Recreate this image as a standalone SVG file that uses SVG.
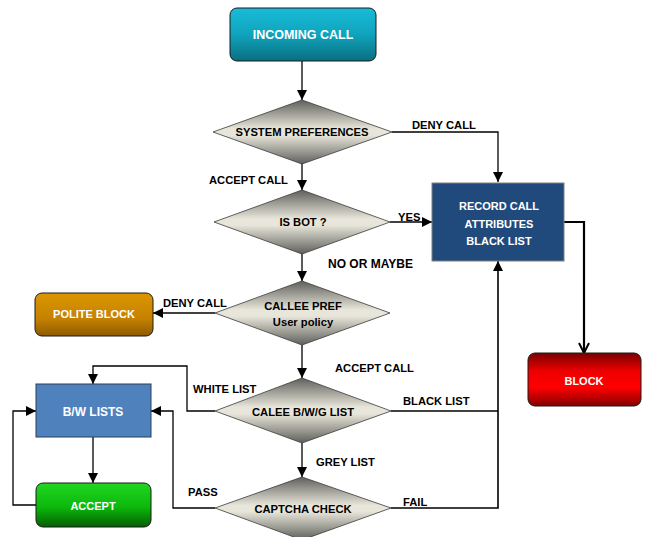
<svg xmlns="http://www.w3.org/2000/svg" width="645" height="537" viewBox="0 0 645 537">
<defs>
<linearGradient id="gTeal" x1="0" y1="0" x2="0" y2="1"><stop offset="0" stop-color="#18BCD8"/><stop offset="0.5" stop-color="#10A3BC"/><stop offset="1" stop-color="#0A6E80"/></linearGradient>
<linearGradient id="gDia" x1="0" y1="0" x2="0" y2="1"><stop offset="0" stop-color="#5F5F5B"/><stop offset="0.45" stop-color="#E8E6DA"/><stop offset="0.55" stop-color="#E8E6DA"/><stop offset="1" stop-color="#5F5F5B"/></linearGradient>
<linearGradient id="gGold" x1="0" y1="0" x2="0" y2="1"><stop offset="0" stop-color="#DC9600"/><stop offset="0.6" stop-color="#C58200"/><stop offset="1" stop-color="#8E5A00"/></linearGradient>
<linearGradient id="gGreen" x1="0" y1="0" x2="0" y2="1"><stop offset="0" stop-color="#22D622"/><stop offset="0.55" stop-color="#0BB80B"/><stop offset="1" stop-color="#035E03"/></linearGradient>
<linearGradient id="gRed" x1="0" y1="0" x2="0" y2="1"><stop offset="0" stop-color="#7A0000"/><stop offset="0.35" stop-color="#F00000"/><stop offset="0.65" stop-color="#FF0000"/><stop offset="1" stop-color="#820000"/></linearGradient>
<marker id="ah" viewBox="0 0 10 10" refX="10" refY="5" markerWidth="10" markerHeight="10" markerUnits="userSpaceOnUse" orient="auto"><path d="M0,0 L10,5 L0,10 Z" fill="#000"/></marker>
<marker id="av" viewBox="0 0 12 12" refX="11" refY="6" markerWidth="12" markerHeight="12" markerUnits="userSpaceOnUse" orient="auto"><path d="M1,1 L11,6 L1,11" fill="none" stroke="#000" stroke-width="2"/></marker>
</defs>
<style>
.ln{fill:none;stroke:#000;stroke-width:1.3}
.lb{font-family:"Liberation Sans",Arial,sans-serif;font-weight:bold;font-size:11.2px;fill:#000}
.nt{font-family:"Liberation Sans",Arial,sans-serif;font-weight:bold;font-size:11px;fill:#fff;text-anchor:middle}
.dt{font-family:"Liberation Sans",Arial,sans-serif;font-weight:bold;font-size:11.2px;fill:#000;text-anchor:middle}
.dia{fill:url(#gDia);stroke:#3a3a3a;stroke-width:0.8}
.big{font-size:12.5px}
.mid{font-size:12px}
</style>
<g id="connectors">
<path class="ln" d="M302,61 V100" marker-end="url(#ah)"/>
<path class="ln" d="M392,132 H498 V182" marker-end="url(#ah)"/>
<path class="ln" d="M302,163 V190" marker-end="url(#ah)"/>
<path class="ln" d="M390,222 H432" marker-end="url(#ah)"/>
<path class="ln" d="M302,253 V281" marker-end="url(#ah)"/>
<path class="ln" d="M215,313 H153" marker-end="url(#ah)"/>
<path class="ln" d="M302,345 V378" marker-end="url(#ah)"/>
<path class="ln" d="M215,411 H187 V366 H93 V384" marker-end="url(#ah)"/>
<path class="ln" d="M391,411 H498"/>
<path class="ln" d="M391,508 H498 V261" style="stroke-width:1.6" marker-end="url(#ah)"/>
<path class="ln" d="M302,443 V477" marker-end="url(#ah)"/>
<path class="ln" d="M215,508 H173 V411 H151" marker-end="url(#ah)"/>
<path class="ln" d="M93,437 V483" marker-end="url(#ah)"/>
<path class="ln" d="M36,505 H13 V411 H36" marker-end="url(#ah)"/>
<path class="ln" d="M564,222 H584 V353" style="stroke-width:2.2" marker-end="url(#av)"/>
<text class="lb" x="412" y="129">DENY CALL</text>
<text class="lb" x="209" y="184">ACCEPT CALL</text>
<text class="lb" x="398" y="221">YES</text>
<text class="lb mid" x="328" y="268">NO OR MAYBE</text>
<text class="lb" x="163" y="307">DENY CALL</text>
<text class="lb" x="335" y="372">ACCEPT CALL</text>
<text class="lb" x="193" y="393">WHITE LIST</text>
<text class="lb" x="403" y="405">BLACK LIST</text>
<text class="lb" x="316" y="466">GREY LIST</text>
<text class="lb" x="188" y="496">PASS</text>
<text class="lb" x="403" y="506">FAIL</text>
</g>
<g id="incoming">
<rect x="230" y="8" width="146" height="53" rx="7" fill="url(#gTeal)" stroke="#1a1a1a" stroke-width="1"/>
<text class="nt big" x="303" y="38.5">INCOMING CALL</text>
</g>
<g id="sysprefs">
<polygon class="dia" points="302,100 392,132 302,164 213,132"/>
<text class="dt" x="302" y="136">SYSTEM PREFERENCES</text>
</g>
<g id="isbot">
<polygon class="dia" points="302,190 390,222 302,254 214,222"/>
<text class="dt" x="303" y="226">IS BOT ?</text>
</g>
<g id="record">
<rect x="432" y="183" width="132" height="78" fill="#214A7C" stroke="#7f7f7f" stroke-width="1"/>
<text class="nt" x="499" y="210">RECORD CALL</text>
<text class="nt" x="499" y="228">ATTRIBUTES</text>
<text class="nt" x="499" y="245">BLACK LIST</text>
</g>
<g id="calleepref">
<polygon class="dia" points="302,281 390,313 302,345 215,313"/>
<text class="dt" x="303" y="310">CALLEE PREF</text>
<text class="dt" x="303" y="326">User policy</text>
</g>
<g id="politeblock">
<rect x="35" y="293" width="118" height="43" rx="7" fill="url(#gGold)" stroke="#1a1a1a" stroke-width="1"/>
<text class="nt" x="94" y="318">POLITE BLOCK</text>
</g>
<g id="bwg">
<polygon class="dia" points="302,378 391,411 302,443 215,411"/>
<text class="dt" x="303" y="416">CALEE B/W/G LIST</text>
</g>
<g id="bwlists">
<rect x="36" y="384" width="115" height="53" fill="#4F81BD" stroke="#2a3f5c" stroke-width="1"/>
<text class="nt mid" x="93" y="416">B/W LISTS</text>
</g>
<g id="captcha">
<polygon class="dia" points="302,477 391,508 302,540 215,508"/>
<text class="dt" x="303" y="513">CAPTCHA CHECK</text>
</g>
<g id="accept">
<rect x="36" y="483" width="115" height="44" rx="7" fill="url(#gGreen)" stroke="#1a1a1a" stroke-width="1"/>
<text class="nt" x="93" y="510">ACCEPT</text>
</g>
<g id="block">
<rect x="528" y="353" width="113" height="53" rx="7" fill="url(#gRed)" stroke="#1a1a1a" stroke-width="1"/>
<text class="nt" x="584" y="385">BLOCK</text>
</g>
</svg>
